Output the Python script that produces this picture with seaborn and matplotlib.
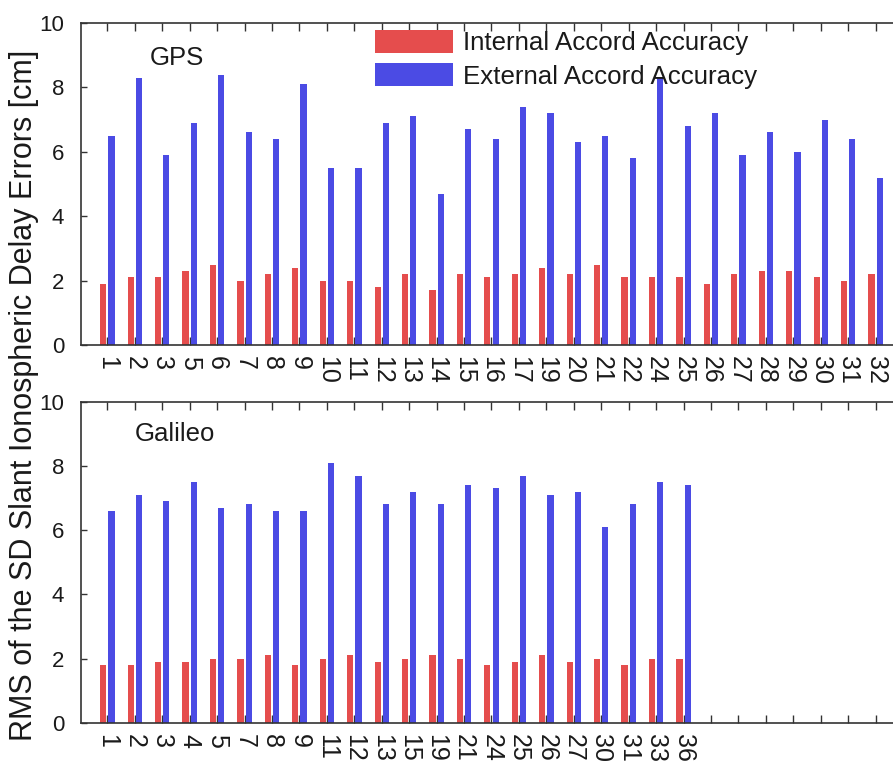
import matplotlib
matplotlib.use("Agg")
import matplotlib.pyplot as plt
from matplotlib.patches import Patch
import seaborn as sns
import pandas as pd

# Satellite PRNs and RMS values [cm]
gps_prn = ["1", "2", "3", "5", "6", "7", "8", "9", "10", "11", "12", "13", "14", "15",
           "16", "17", "19", "20", "21", "22", "24", "25", "26", "27", "28", "29", "30",
           "31", "32"]
gps_internal = [1.9, 2.1, 2.1, 2.3, 2.5, 2.0, 2.2, 2.4, 2.0, 2.0, 1.8, 2.2, 1.7, 2.2,
                2.1, 2.2, 2.4, 2.2, 2.5, 2.1, 2.1, 2.1, 1.9, 2.2, 2.3, 2.3, 2.1,
                2.0, 2.2]
gps_external = [6.5, 8.3, 5.9, 6.9, 8.4, 6.6, 6.4, 8.1, 5.5, 5.5, 6.9, 7.1, 4.7, 6.7,
                6.4, 7.4, 7.2, 6.3, 6.5, 5.8, 8.3, 6.8, 7.2, 5.9, 6.6, 6.0, 7.0,
                6.4, 5.2]

gal_prn = ["1", "2", "3", "4", "5", "7", "8", "9", "11", "12", "13", "15", "19", "21",
           "24", "25", "26", "27", "30", "31", "33", "36"]
gal_internal = [1.8, 1.8, 1.9, 1.9, 2.0, 2.0, 2.1, 1.8, 2.0, 2.1, 1.9, 2.0, 2.1, 2.0,
                1.8, 1.9, 2.1, 1.9, 2.0, 1.8, 2.0, 2.0]
gal_external = [6.6, 7.1, 6.9, 7.5, 6.7, 6.8, 6.6, 6.6, 8.1, 7.7, 6.8, 7.2, 6.8, 7.4,
                7.3, 7.7, 7.1, 7.2, 6.1, 6.8, 7.5, 7.4]

series_names = ["Internal Accord Accuracy", "External Accord Accuracy"]
colors = ["#E54D4D", "#4B4BE4"]
n_slots = 29
ink = "#1a1a1a"

sns.set_theme(style="white")
plt.rcParams["font.family"] = ["Liberation Sans", "DejaVu Sans"]
plt.rcParams["text.color"] = ink
plt.rcParams["xtick.labelcolor"] = ink
plt.rcParams["ytick.labelcolor"] = ink


def long_frame(prn, internal, external):
    return pd.DataFrame({
        "prn": prn * 2,
        "rms": internal + external,
        "kind": [series_names[0]] * len(prn) + [series_names[1]] * len(prn),
    })


fig = plt.figure(figsize=(8.93, 7.63), dpi=100)
ax_left = 81 / 893
ax_width = (902 - 81) / 893
ax_top = fig.add_axes([ax_left, 1 - 345 / 763, ax_width, 322 / 763])
ax_bot = fig.add_axes([ax_left, 1 - 722.7 / 763, ax_width, 321 / 763])

panels = [
    (ax_top, gps_prn, gps_internal, gps_external, "GPS", 0.084, 0.891),
    (ax_bot, gal_prn, gal_internal, gal_external, "Galileo", 0.066, 0.899),
]

for ax, prn, internal, external, name, tx, ty in panels:
    df = long_frame(prn, internal, external)
    sns.barplot(data=df, x="prn", y="rms", hue="kind", order=prn,
                hue_order=series_names, palette=colors, saturation=1,
                width=0.6, gap=0.25, errorbar=None, linewidth=0,
                legend=False, ax=ax)
    ax.set_xlim(-0.96, n_slots - 0.04)
    ax.set_ylim(0, 10)
    ax.set_yticks([0, 2, 4, 6, 8, 10])
    ax.set_xticks(range(n_slots))
    ax.set_xticklabels(prn + [""] * (n_slots - len(prn)), rotation=-90,
                       fontsize=18)
    ax.tick_params(axis="y", labelsize=16, direction="in", length=4.5,
                   width=1.0, color="#333333", pad=12, left=True, right=False)
    ax.tick_params(axis="x", direction="in", length=5.5, width=1.0,
                   color="#333333", pad=8, bottom=True, top=True)
    for lbl in ax.get_xticklabels():
        lbl.set_va("top")
        lbl.set_ha("center")
    ax.set_xlabel("")
    ax.set_ylabel("")
    for side in ["left", "bottom", "top"]:
        ax.spines[side].set_visible(True)
        ax.spines[side].set_color("#333333")
        ax.spines[side].set_linewidth(1.2)
    ax.spines["right"].set_visible(False)
    ax.text(tx, ty, name, transform=ax.transAxes, fontsize=18.5,
            ha="left", va="center")

handles = [Patch(facecolor=c, edgecolor="none") for c in colors]
fig.legend(handles, series_names, loc="upper left",
           bbox_to_anchor=(375 / 893, 1 - 30 / 763), bbox_transform=fig.transFigure,
           frameon=False, fontsize=18.6, handlelength=3.0, handleheight=1.0,
           handletextpad=0.4, labelspacing=0.3, borderpad=0, borderaxespad=0)

fig.text(24 / 893, 1 - 395 / 763, "RMS of the SD Slant Ionospheric Delay Errors [cm]",
         rotation=90, ha="center", va="center", fontsize=22)

fig.savefig("out.png", dpi=100)
